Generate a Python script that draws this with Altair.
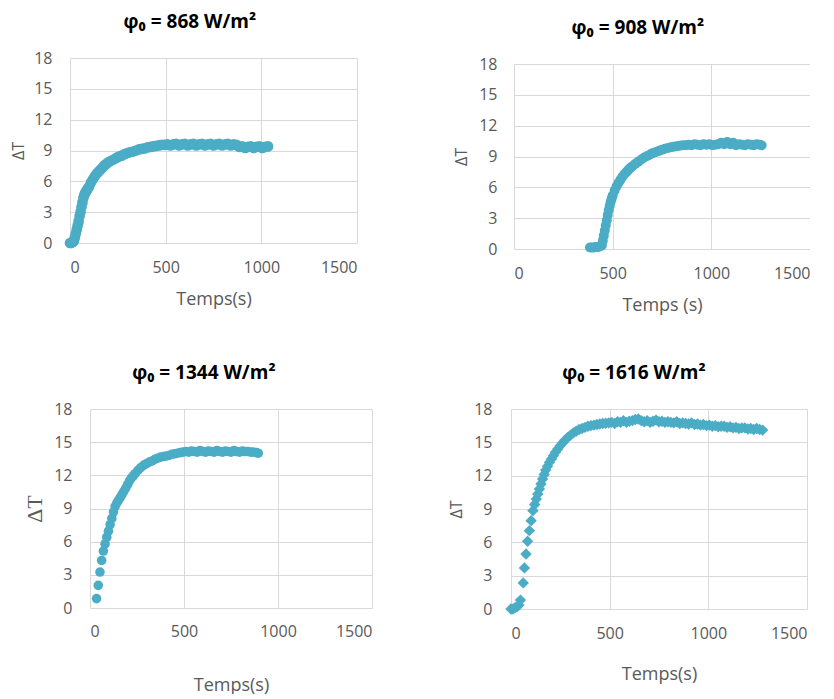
import altair as alt
import pandas as pd

COLOR = "#4bacc6"
GRID = "#d9d9d9"
LABEL = "#595959"

# ---- Panel 1 : phi0 = 868 W/m2 ----
t1 = [0, 5, 10, 15, 20, 25, 30, 35, 40, 45, 50, 55, 60, 65, 70, 75, 80, 85, 90, 95, 100,
      110, 120, 130, 140, 150, 160, 170, 180, 190, 200, 210, 225, 240, 255, 270, 285, 300,
      315, 330, 345, 360, 375, 390, 405, 420, 435, 450, 465, 480,
      495, 510, 525, 540, 555, 570, 585, 600, 615, 630, 645, 660, 675,
      690, 705, 720, 735, 750, 765, 780, 795, 810, 825, 840, 855, 870,
      885, 900, 915, 930, 945, 960, 975, 990, 1005, 1020, 1035]
dT1 = [0.0, 0.0, 0.05, 0.1, 0.2, 0.5, 0.9, 1.3, 1.7, 2.1, 2.6, 3.0, 3.5, 3.95, 4.4, 4.7, 4.9, 5.05, 5.2, 5.35, 5.5,
       5.9, 6.2, 6.5, 6.75, 6.95, 7.15, 7.35, 7.55, 7.7, 7.85, 7.95, 8.1, 8.25, 8.4, 8.5, 8.65, 8.75,
       8.85, 8.9, 9.0, 9.1, 9.15, 9.2, 9.3, 9.35, 9.4, 9.45, 9.5, 9.55,
       9.55, 9.6, 9.5, 9.6, 9.65, 9.5, 9.6, 9.65, 9.5, 9.6, 9.65, 9.5, 9.6,
       9.65, 9.5, 9.6, 9.65, 9.5, 9.6, 9.65, 9.5, 9.6, 9.65, 9.5, 9.6, 9.55,
       9.35, 9.4, 9.25, 9.35, 9.4, 9.25, 9.35, 9.4, 9.25, 9.35, 9.4]

# ---- Panel 2 : phi0 = 908 W/m2 ----
t2 = [385, 395, 405, 415, 425, 435, 445, 450, 455, 460, 465, 470, 475, 480, 485, 490, 495, 500,
      510, 520, 530, 540, 550, 560, 570, 580, 590, 600, 615, 630, 645, 660, 675, 690, 705, 720,
      735, 750, 765, 780, 795, 810, 825, 840, 855, 870,
      885, 900, 915, 930, 945, 960, 975, 990, 1005, 1020, 1035, 1050, 1065,
      1080, 1095, 1110, 1125, 1140, 1155, 1170, 1185, 1200, 1215, 1230, 1245, 1255]
dT2 = [0.15, 0.15, 0.15, 0.2, 0.2, 0.25, 0.35, 0.8, 1.3, 1.8, 2.3, 2.8, 3.3, 3.8, 4.2, 4.6, 4.9, 5.2,
       5.7, 6.1, 6.45, 6.75, 7.05, 7.3, 7.5, 7.7, 7.9, 8.05, 8.3, 8.5, 8.7, 8.9, 9.05, 9.2, 9.35, 9.45,
       9.55, 9.65, 9.75, 9.82, 9.9, 9.95, 10.0, 10.05, 10.1, 10.1,
       10.15, 10.1, 10.2, 10.15, 10.1, 10.2, 10.15, 10.2, 10.1, 10.15, 10.2, 10.35, 10.2,
       10.4, 10.2, 10.35, 10.1, 10.2, 10.15, 10.1, 10.2, 10.15, 10.1, 10.2, 10.15, 10.1]

# ---- Panel 3 : phi0 = 1344 W/m2 ----
t3 = [35, 44, 53, 62, 71, 80, 89, 98, 107, 116, 125, 134, 143, 152, 161, 170, 180, 190, 200, 210,
      220, 230, 240, 255, 270, 285, 300, 315, 330, 345, 360, 375, 390, 405, 420, 435, 450, 465, 480, 495,
      510, 525, 540, 555, 570, 585, 600, 615, 630, 645, 660, 675, 690,
      705, 720, 735, 750, 765, 780, 795, 810, 825, 840, 855, 870, 885, 895]
dT3 = [0.85, 2.05, 3.25, 4.3, 5.15, 5.8, 6.4, 6.95, 7.55, 8.1, 8.7, 9.2, 9.5, 9.75, 10.0, 10.25, 10.55, 10.85, 11.15, 11.5,
       11.75, 11.95, 12.15, 12.45, 12.7, 12.9, 13.05, 13.2, 13.3, 13.45, 13.55, 13.65, 13.7, 13.75, 13.8, 13.9, 13.95, 14.0, 14.05, 14.1,
       14.15, 14.1, 14.2, 14.15, 14.1, 14.25, 14.15, 14.1, 14.2, 14.15, 14.1, 14.25, 14.15,
       14.1, 14.2, 14.15, 14.1, 14.25, 14.15, 14.1, 14.2, 14.15, 14.15, 14.1, 14.1, 14.05, 14.0]

# ---- Panel 4 : phi0 = 1616 W/m2 ----
t4 = [0, 10, 20, 30, 40, 48, 62, 68, 76, 84, 93, 102, 111, 120, 128, 136, 144, 152, 160, 168,
      176, 185, 195, 205, 215, 225, 237, 249, 261, 274, 288, 302, 316, 330, 345, 360, 375, 390,
      405, 420, 435, 450, 465, 480, 495,
      510, 525, 540, 555, 570, 585, 600, 615, 630, 645,
      660, 675, 690, 705, 720, 735, 750, 765, 780, 795,
      810, 825, 840, 855, 870, 885, 900, 915, 930, 945,
      960, 975, 990, 1005, 1020, 1035, 1050, 1065, 1080, 1095,
      1110, 1125, 1140, 1155, 1170, 1185, 1200, 1215, 1230, 1245,
      1260, 1275]
dT4 = [0.0, 0.0, 0.1, 0.2, 0.35, 0.8, 2.35, 3.7, 4.95, 6.1, 7.05, 7.95, 8.85, 9.4, 9.9, 10.35, 10.8, 11.25, 11.7, 12.1,
       12.5, 12.85, 13.2, 13.5, 13.8, 14.1, 14.4, 14.7, 14.95, 15.2, 15.45, 15.65, 15.85, 16.0, 16.15, 16.25, 16.35, 16.45,
       16.5, 16.55, 16.6, 16.65, 16.7, 16.72, 16.75,
       16.8, 16.7, 16.85, 16.8, 16.95, 16.8, 16.9, 16.95, 17.05, 17.1,
       16.95, 16.85, 16.95, 16.8, 16.9, 17.0, 16.85, 16.9, 16.8, 16.85,
       16.8, 16.75, 16.85, 16.7, 16.75, 16.7, 16.65, 16.75, 16.6, 16.65,
       16.55, 16.6, 16.5, 16.55, 16.45, 16.5, 16.4, 16.45, 16.45, 16.35,
       16.4, 16.3, 16.35, 16.25, 16.3, 16.3, 16.2, 16.25, 16.15, 16.25,
       16.15, 16.1]

titles = ["φ₀ = 868 W/m²", "φ₀ = 908 W/m²", "φ₀ = 1344 W/m²", "φ₀ = 1616 W/m²"]
xtitles = ["Temps(s)", "Temps (s)", "Temps(s)", "Temps(s)"]
x_ticks = [0, 500, 1000, 1500]
y_ticks = [0, 3, 6, 9, 12, 15, 18]


def panel(t, v, title, xtitle, shape, size, w, h, xlab_pad, xtitle_pad, ylab_pad, ytitle_pad,
          yfont="Open Sans", yfont_size=16, toff=3):
    df = pd.DataFrame({"t": t, "dT": v})
    return alt.Chart(
        df,
        title=alt.TitleParams(title, fontSize=19, fontWeight="bold", font="Open Sans",
                              color="black", anchor="middle", frame="bounds",
                              baseline="alphabetic", offset=toff, dx=6),
    ).mark_point(shape=shape, filled=True, size=size, color=COLOR, opacity=1).encode(
        x=alt.X("t:Q", scale=alt.Scale(domain=[0, 1500], nice=False),
                axis=alt.Axis(values=x_ticks, format="d", title=xtitle, labelPadding=xlab_pad,
                              titlePadding=xtitle_pad)),
        y=alt.Y("dT:Q", scale=alt.Scale(domain=[0, 18], nice=False),
                axis=alt.Axis(values=y_ticks, format="d", title="ΔT", labelPadding=ylab_pad,
                              titlePadding=ytitle_pad, titleFont=yfont,
                              titleFontSize=yfont_size)),
    ).properties(width=w, height=h)


p1 = panel(t1, dT1, titles[0], xtitles[0], "circle", 115, 287, 185, 16, 15, 18, 7)
p2 = panel(t2, dT2, titles[1], xtitles[1], "circle", 100, 296, 185, 16, 15, 17, 9)
p3 = panel(t3, dT3, titles[2], xtitles[2], "circle", 92, 282, 199, 15, 37, 18, 7,
           yfont="Liberation Serif", yfont_size=22)
p4 = panel(t4, dT4, titles[3], xtitles[3], "diamond", 130, 296, 200, 16, 24, 19, 9)

spacer_df = pd.DataFrame({"a": [0]})


def spacer(w, h):
    return alt.Chart(spacer_df).mark_point(opacity=0).encode(
        x=alt.X("a:Q", axis=None), y=alt.Y("a:Q", axis=None)
    ).properties(width=w, height=h)


row1 = alt.hconcat(p1, alt.vconcat(spacer(10, 6), p2, spacing=0, bounds="flush"),
                   spacing=157, bounds="flush")
row2 = alt.hconcat(spacer(20, 10), alt.hconcat(p3, p4, spacing=139, bounds="flush"),
                   spacing=0, bounds="flush")

chart = alt.vconcat(row1, row2, spacing=351, bounds="flush").properties(
    padding={"left": 2, "top": 5, "right": 0, "bottom": 0}
).configure_view(stroke=None).configure_axis(
    grid=True, gridColor=GRID, gridWidth=1, domain=False, ticks=False,
    labelColor=LABEL, labelFont="Open Sans", labelFontSize=16,
    titleColor=LABEL, titleFont="Open Sans", titleFontSize=18, titleFontWeight="normal",
)

chart.save("out.html", embed_options={"renderer": "svg", "actions": False})
